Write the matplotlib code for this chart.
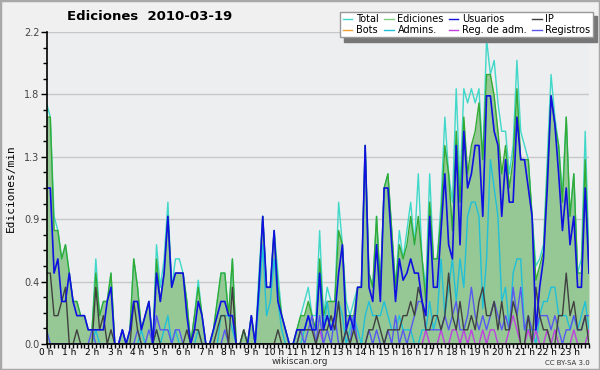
import numpy as np
import matplotlib
matplotlib.use("Agg")
import matplotlib.pyplot as plt
from matplotlib.lines import Line2D
from matplotlib.patches import Rectangle

# una muestra cada 10 minutos (ediciones/min), 24 filas de 6 valores = 1 fila por hora
ediciones = [
    1.6, 1.6, 0.8, 0.8, 0.6, 0.7,
    0.5, 0.3, 0.3, 0.2, 0.2, 0.1,
    0.1, 0.5, 0.2, 0.3, 0.3, 0.5,
    0.0, 0.0, 0.1, 0.0, 0.1, 0.6,
    0.4, 0.1, 0.2, 0.3, 0.0, 0.6,
    0.3, 0.5, 0.9, 0.4, 0.5, 0.5,
    0.5, 0.3, 0.0, 0.2, 0.4, 0.2,
    0.0, 0.0, 0.1, 0.3, 0.5, 0.5,
    0.2, 0.6, 0.0, 0.0, 0.1, 0.0,
    0.2, 0.0, 0.4, 0.9, 0.4, 0.4,
    0.8, 0.4, 0.2, 0.1, 0.0, 0.0,
    0.1, 0.2, 0.2, 0.3, 0.2, 0.1,
    0.6, 0.2, 0.3, 0.3, 0.3, 0.8,
    0.7, 0.2, 0.2, 0.2, 0.4, 0.4,
    1.4, 0.5, 0.4, 0.9, 0.4, 1.1,
    1.2, 0.8, 0.4, 0.7, 0.6, 0.7,
    0.9, 0.7, 0.9, 0.6, 0.3, 1.0,
    0.6, 0.6, 0.9, 1.4, 1.2, 0.8,
    1.5, 1.0, 1.6, 1.2, 1.4, 1.5,
    1.7, 1.3, 1.9, 1.9, 1.75, 1.5,
    1.2, 1.4, 1.1, 1.3, 1.8, 1.3,
    1.3, 1.3, 0.9, 0.45, 0.55, 0.65,
    1.2, 1.75, 1.55, 1.4, 1.0, 1.6,
    0.9, 1.2, 0.5, 0.5, 1.3, 0.5,
]
usuarios = [
    1.1, 1.1, 0.5, 0.6, 0.3, 0.3,
    0.5, 0.3, 0.2, 0.2, 0.2, 0.1,
    0.1, 0.1, 0.1, 0.1, 0.3, 0.4,
    0.0, 0.0, 0.1, 0.0, 0.1, 0.3,
    0.3, 0.1, 0.2, 0.3, 0.0, 0.5,
    0.3, 0.5, 0.9, 0.4, 0.5, 0.5,
    0.5, 0.2, 0.0, 0.1, 0.3, 0.2,
    0.0, 0.0, 0.1, 0.2, 0.3, 0.3,
    0.2, 0.2, 0.0, 0.0, 0.0, 0.0,
    0.2, 0.0, 0.4, 0.9, 0.4, 0.4,
    0.8, 0.3, 0.2, 0.1, 0.0, 0.0,
    0.1, 0.1, 0.1, 0.2, 0.1, 0.1,
    0.5, 0.1, 0.2, 0.1, 0.2, 0.5,
    0.7, 0.1, 0.2, 0.1, 0.4, 0.4,
    1.4, 0.4, 0.3, 0.7, 0.3, 1.1,
    1.1, 0.7, 0.3, 0.6, 0.45, 0.5,
    0.6, 0.5, 0.5, 0.3, 0.2, 0.9,
    0.4, 0.4, 0.8, 1.2, 0.7, 0.6,
    1.4, 0.7, 1.5, 1.1, 1.2, 1.4,
    1.4, 0.9, 1.75, 1.75, 1.5, 1.4,
    0.9, 1.3, 1.0, 1.0, 1.6, 1.3,
    1.3, 1.1, 0.9, 0.1, 0.4, 0.6,
    1.1, 1.75, 1.55, 1.2, 0.8, 1.1,
    0.7, 0.9, 0.4, 0.4, 1.1, 0.5,
]
ip = [
    0.5, 0.5, 0.2, 0.2, 0.3, 0.4,
    0.0, 0.0, 0.1, 0.0, 0.0, 0.0,
    0.0, 0.4, 0.1, 0.2, 0.0, 0.1,
    0.0, 0.0, 0.0, 0.0, 0.0, 0.3,
    0.1, 0.0, 0.0, 0.0, 0.0, 0.1,
    0.0, 0.0, 0.0, 0.0, 0.0, 0.0,
    0.0, 0.1, 0.0, 0.1, 0.1, 0.0,
    0.0, 0.0, 0.0, 0.1, 0.2, 0.2,
    0.0, 0.4, 0.0, 0.0, 0.1, 0.0,
    0.0, 0.0, 0.0, 0.0, 0.0, 0.0,
    0.0, 0.1, 0.0, 0.0, 0.0, 0.0,
    0.0, 0.1, 0.1, 0.1, 0.1, 0.0,
    0.1, 0.1, 0.1, 0.2, 0.1, 0.3,
    0.0, 0.1, 0.0, 0.1, 0.0, 0.0,
    0.0, 0.1, 0.1, 0.2, 0.1, 0.0,
    0.1, 0.1, 0.1, 0.1, 0.2, 0.2,
    0.3, 0.2, 0.4, 0.3, 0.1, 0.1,
    0.2, 0.2, 0.1, 0.2, 0.5, 0.2,
    0.1, 0.3, 0.1, 0.1, 0.2, 0.1,
    0.3, 0.4, 0.2, 0.2, 0.3, 0.1,
    0.3, 0.1, 0.1, 0.3, 0.2, 0.0,
    0.0, 0.2, 0.0, 0.4, 0.2, 0.1,
    0.1, 0.0, 0.0, 0.2, 0.2, 0.5,
    0.2, 0.3, 0.1, 0.1, 0.2, 0.0,
]
total = [
    1.7, 1.6, 0.9, 0.8, 0.6, 0.7,
    0.5, 0.3, 0.3, 0.2, 0.2, 0.1,
    0.1, 0.6, 0.2, 0.3, 0.3, 0.5,
    0.0, 0.0, 0.1, 0.0, 0.1, 0.6,
    0.4, 0.1, 0.2, 0.3, 0.0, 0.7,
    0.4, 0.6, 1.0, 0.4, 0.6, 0.6,
    0.5, 0.3, 0.0, 0.2, 0.45, 0.2,
    0.0, 0.0, 0.1, 0.3, 0.5, 0.5,
    0.2, 0.6, 0.0, 0.0, 0.1, 0.0,
    0.2, 0.0, 0.5, 0.9, 0.4, 0.4,
    0.8, 0.5, 0.2, 0.1, 0.0, 0.0,
    0.1, 0.2, 0.3, 0.4, 0.2, 0.2,
    0.8, 0.2, 0.4, 0.3, 0.3, 1.0,
    0.7, 0.3, 0.2, 0.3, 0.4, 0.4,
    1.4, 0.5, 0.4, 0.9, 0.4, 1.1,
    1.2, 0.8, 0.4, 0.8, 0.6, 0.8,
    1.0, 0.7, 1.2, 0.6, 0.4, 1.2,
    0.6, 0.6, 1.0, 1.6, 1.2, 1.0,
    1.8, 1.1, 1.8, 1.7, 1.8, 1.7,
    1.8, 1.3, 2.15, 1.9, 2.0, 1.7,
    1.5, 1.5, 1.2, 1.4, 2.0, 1.5,
    1.4, 1.3, 0.9, 0.55, 0.6, 0.7,
    1.3, 1.9, 1.6, 1.4, 1.05, 1.6,
    0.9, 1.2, 0.5, 0.6, 1.5, 0.6,
]
admins = [
    0.0, 0.0, 0.0, 0.0, 0.0, 0.0,
    0.0, 0.0, 0.0, 0.0, 0.0, 0.0,
    0.0, 0.1, 0.0, 0.0, 0.0, 0.0,
    0.0, 0.0, 0.0, 0.0, 0.0, 0.0,
    0.0, 0.1, 0.0, 0.0, 0.0, 0.1,
    0.0, 0.1, 0.2, 0.0, 0.1, 0.0,
    0.0, 0.0, 0.0, 0.0, 0.1, 0.0,
    0.0, 0.0, 0.0, 0.0, 0.2, 0.2,
    0.2, 0.1, 0.0, 0.0, 0.0, 0.0,
    0.0, 0.0, 0.3, 0.7, 0.2, 0.3,
    0.6, 0.3, 0.1, 0.0, 0.0, 0.0,
    0.0, 0.0, 0.1, 0.2, 0.1, 0.1,
    0.5, 0.1, 0.3, 0.1, 0.1, 0.3,
    0.2, 0.0, 0.1, 0.2, 0.1, 0.0,
    0.2, 0.3, 0.2, 0.2, 0.2, 0.3,
    0.2, 0.1, 0.1, 0.2, 0.1, 0.1,
    0.1, 0.0, 0.0, 0.1, 0.1, 0.3,
    0.1, 0.2, 0.6, 0.2, 0.4, 0.6,
    0.3, 0.6, 0.4, 0.9, 1.0, 1.0,
    0.9, 0.25, 0.6, 1.3, 1.1, 0.9,
    0.3, 0.4, 0.1, 0.5, 0.6, 0.6,
    0.1, 0.1, 0.1, 0.0, 0.2, 0.3,
    0.3, 0.4, 0.4, 0.2, 0.2, 0.2,
    0.1, 0.2, 0.1, 0.2, 0.3, 0.1,
]
registros = [
    0.1, 0.0, 0.0, 0.0, 0.0, 0.0,
    0.0, 0.0, 0.0, 0.0, 0.0, 0.0,
    0.1, 0.0, 0.0, 0.0, 0.0, 0.0,
    0.0, 0.0, 0.1, 0.0, 0.0, 0.0,
    0.1, 0.0, 0.0, 0.1, 0.0, 0.2,
    0.1, 0.1, 0.1, 0.0, 0.1, 0.1,
    0.0, 0.0, 0.0, 0.0, 0.0, 0.0,
    0.0, 0.0, 0.0, 0.0, 0.0, 0.1,
    0.0, 0.0, 0.0, 0.0, 0.0, 0.0,
    0.0, 0.0, 0.0, 0.0, 0.0, 0.0,
    0.0, 0.0, 0.0, 0.0, 0.0, 0.0,
    0.0, 0.1, 0.0, 0.1, 0.2, 0.0,
    0.2, 0.0, 0.1, 0.0, 0.2, 0.0,
    0.0, 0.1, 0.0, 0.2, 0.0, 0.0,
    0.0, 0.1, 0.0, 0.1, 0.0, 0.0,
    0.1, 0.0, 0.2, 0.0, 0.1, 0.0,
    0.1, 0.2, 0.3, 0.3, 0.1, 0.1,
    0.1, 0.1, 0.1, 0.2, 0.1, 0.2,
    0.3, 0.1, 0.1, 0.2, 0.4, 0.2,
    0.1, 0.2, 0.1, 0.2, 0.3, 0.2,
    0.1, 0.2, 0.1, 0.4, 0.2, 0.4,
    0.1, 0.2, 0.1, 0.1, 0.2, 0.2,
    0.2, 0.1, 0.2, 0.1, 0.0, 0.1,
    0.1, 0.2, 0.1, 0.1, 0.2, 0.2,
]
reg_adm = [
    0.0, 0.0, 0.0, 0.0, 0.0, 0.0,
    0.0, 0.0, 0.0, 0.0, 0.0, 0.0,
    0.0, 0.0, 0.0, 0.0, 0.0, 0.0,
    0.0, 0.0, 0.0, 0.0, 0.0, 0.0,
    0.0, 0.0, 0.0, 0.0, 0.0, 0.0,
    0.0, 0.0, 0.0, 0.0, 0.0, 0.0,
    0.0, 0.0, 0.0, 0.0, 0.0, 0.0,
    0.0, 0.0, 0.0, 0.0, 0.0, 0.0,
    0.0, 0.0, 0.0, 0.0, 0.0, 0.0,
    0.0, 0.0, 0.0, 0.0, 0.0, 0.0,
    0.0, 0.0, 0.0, 0.0, 0.0, 0.0,
    0.0, 0.0, 0.0, 0.0, 0.0, 0.0,
    0.1, 0.0, 0.0, 0.0, 0.0, 0.0,
    0.0, 0.0, 0.0, 0.0, 0.0, 0.0,
    0.0, 0.0, 0.0, 0.0, 0.0, 0.0,
    0.0, 0.0, 0.0, 0.0, 0.0, 0.0,
    0.0, 0.0, 0.0, 0.0, 0.1, 0.0,
    0.0, 0.0, 0.1, 0.0, 0.0, 0.1,
    0.1, 0.0, 0.1, 0.0, 0.1, 0.0,
    0.0, 0.1, 0.0, 0.1, 0.1, 0.0,
    0.0, 0.0, 0.1, 0.2, 0.1, 0.0,
    0.0, 0.1, 0.0, 0.1, 0.0, 0.0,
    0.1, 0.0, 0.1, 0.0, 0.0, 0.0,
    0.0, 0.1, 0.0, 0.0, 0.0, 0.1,
]
bots = [0.0] * 144

horas = [f"{h} h" for h in range(24)]

# colores
c_total = "#40d8c8"
c_edic = "#33aa33"
c_fill = "#96c896"
c_usu = "#1010e0"
c_ip = "#404040"
c_bots = "#f0a030"
c_adm = "#20c0d8"
c_regadm = "#c040e0"
c_reg = "#5858f0"

t = np.arange(len(ediciones)) / 6.0

fig = plt.figure(figsize=(6, 3.7), dpi=100, facecolor="#f0f0f0")
fig.add_artist(Rectangle((0, 0), 1, 1, transform=fig.transFigure, fill=False,
                         edgecolor="#a8a8a8", lw=2.5))
ax = fig.add_axes([46.5 / 600, 1 - 344 / 370, (589 - 46.5) / 600, (344 - 32) / 370])
ax.set_facecolor("#edeef0")

ax.fill_between(t, ediciones, 0, color=c_fill, lw=0, zorder=1)
ax.plot(t, bots, color=c_bots, lw=0.8, zorder=1.5)
ax.plot(t, total, color=c_total, lw=1.0, zorder=2)
ax.plot(t, ediciones, color=c_edic, lw=1.0, zorder=2.1)
ax.plot(t, admins, color=c_adm, lw=1.0, zorder=2.2)
ax.plot(t, reg_adm, color=c_regadm, lw=1.0, zorder=2.3)
ax.plot(t, registros, color=c_reg, lw=1.0, zorder=2.4)
ax.plot(t, ip, color=c_ip, lw=1.0, zorder=2.5)
ax.plot(t, usuarios, color=c_usu, lw=1.2, zorder=2.6)

ax.set_xlim(0, t[-1])
ax.set_ylim(0, 2.2)

yt = np.arange(0, 2.21, 0.44)
ax.set_yticks(yt)
ax.set_yticklabels([f"{v:.1f}" for v in yt], fontsize=7, color="#444444")
ax.set_yticks(np.arange(0, 2.21, 0.11), minor=True)
ax.set_xticks(range(24))
ax.set_xticklabels(horas, fontsize=6.5)
ax.set_xticks(np.arange(0, t[-1] + 0.01, 1 / 6), minor=True)
ax.tick_params(axis="y", which="major", length=4, width=1, pad=1)
ax.tick_params(axis="x", which="major", length=3, width=1, pad=0)
ax.tick_params(axis="both", which="minor", length=3, width=1)
ax.grid(axis="y", color="#c8c8c8", lw=1, zorder=0)
ax.set_axisbelow(True)
for s in ("top", "right"):
    ax.spines[s].set_visible(False)
for s in ("left", "bottom"):
    ax.spines[s].set_linewidth(1.2)
    ax.spines[s].set_zorder(5)

fig.text(150 / 600, 1 - 17 / 370, "Ediciones  2010-03-19", ha="center", va="center",
         fontsize=9.5, fontweight="bold")
fig.text(11 / 600, 1 - 188 / 370, "Ediciones/min", rotation=90, ha="center", va="center",
         fontsize=8, family="DejaVu Sans Mono")
fig.text(0.5, 1 - 362 / 370, "wikiscan.org", ha="center", va="center", fontsize=6.5,
         color="#333333")
fig.text(590 / 600, 1 - 363 / 370, "CC BY-SA 3.0", ha="right", va="center", fontsize=5,
         color="#333333")

etiquetas = ["Total", "Bots", "Ediciones", "Admins.", "Usuarios", "Reg. de adm.", "IP", "Registros"]
colores = [c_total, c_bots, "#80d080", c_adm, c_usu, c_regadm, c_ip, c_reg]
handles = [Line2D([], [], color=c, lw=1) for c in colores]
leg = fig.legend(handles, etiquetas, ncol=4, loc="upper right",
                 bbox_to_anchor=(593 / 600, 1 - 12 / 370), borderaxespad=0,
                 fontsize=7, handlelength=1.0, handletextpad=0.4, columnspacing=0.5,
                 labelspacing=0.05, borderpad=0.25, fancybox=False,
                 framealpha=1, edgecolor="#999999",
                 shadow={"color": "#777777", "alpha": 1, "ox": 3, "oy": -3})
leg.get_frame().set_linewidth(1)

fig.savefig("out.png", dpi=100, facecolor=fig.get_facecolor())
